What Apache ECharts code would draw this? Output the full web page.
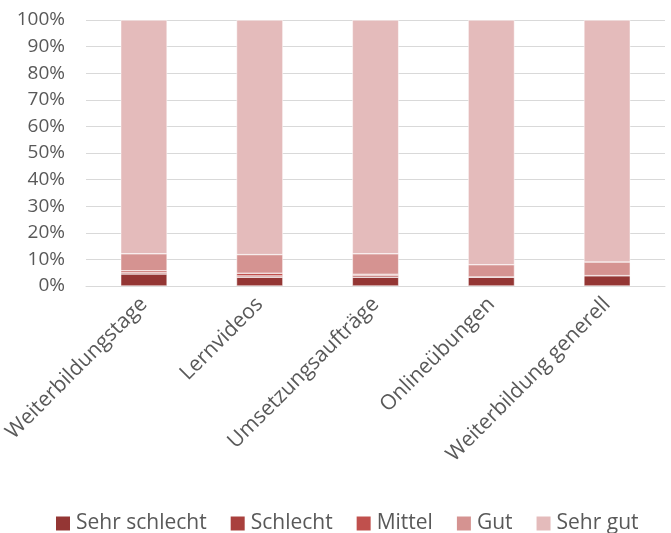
<!DOCTYPE html>
<html>
<head>
<meta charset="utf-8">
<script src="https://cdn.jsdelivr.net/npm/echarts@6/dist/echarts.min.js"></script>
<style>
  html, body { margin: 0; padding: 0; background: #fff; }
  #chart { width: 671px; height: 533px; }
</style>
</head>
<body>
<div id="chart"></div>
<script>
const categories = ['Weiterbildungstage', 'Lernvideos', 'Umsetzungsaufträge', 'Onlineübungen', 'Weiterbildung generell'];
const sehrSchlecht = [4.5, 3.3, 3.3, 3.4, 3.9];
const schlecht = [0.5, 0.5, 0.6, 0, 0];
const mittel = [0.7, 1.0, 0.5, 0, 0];
const gut = [6.4, 7.0, 7.7, 4.6, 5.1];
const sehrGut = [87.9, 88.2, 87.9, 92.0, 91.0];

const myChart = echarts.init(document.getElementById('chart'));
const font = 'Open Sans, Noto Sans, sans-serif';

function bar(name, data, color) {
  return {
    name: name,
    type: 'bar',
    stack: 'total',
    barWidth: '40%',
    data: data,
    itemStyle: { color: color, borderColor: '#fff', borderWidth: 0.5 },
  };
}

const option = {
  animation: false,
  grid: { left: 85, right: 6, top: 20, bottom: 247, containLabel: false },
  legend: {
    top: 508,
    left: 49,
    itemWidth: 16,
    itemHeight: 16,
    itemGap: 22,
    icon: 'rect',
    textStyle: { fontSize: 21, color: '#595959', fontFamily: font },
    data: ['Sehr schlecht', 'Schlecht', 'Mittel', 'Gut', 'Sehr gut'],
  },
  xAxis: {
    type: 'category',
    data: categories,
    axisLine: { lineStyle: { color: '#D9D9D9' } },
    axisTick: { show: false },
    axisLabel: {
      rotate: 45,
      interval: 0,
      fontSize: 21,
      color: '#595959',
      fontFamily: font,
      margin: 15,
    },
  },
  yAxis: {
    type: 'value',
    min: 0,
    max: 100,
    interval: 10,
    axisLine: { show: false },
    axisTick: { show: false },
    splitLine: { lineStyle: { color: '#D9D9D9' } },
    axisLabel: {
      formatter: '{value}%',
      fontSize: 19,
      color: '#595959',
      fontFamily: font,
      margin: 21,
    },
  },
  series: [
    bar('Sehr schlecht', sehrSchlecht, '#943634'),
    bar('Schlecht', schlecht, '#A9403D'),
    bar('Mittel', mittel, '#C0504D'),
    bar('Gut', gut, '#D59391'),
    bar('Sehr gut', sehrGut, '#E4BBBB'),
  ],
};
myChart.setOption(option, true);
</script>
</body>
</html>
